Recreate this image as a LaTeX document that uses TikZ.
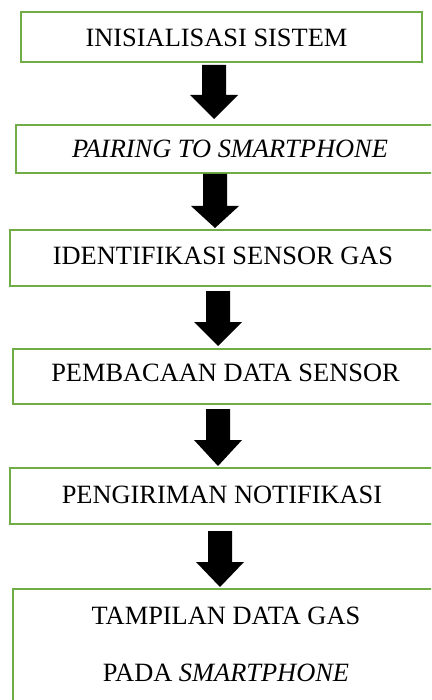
\documentclass[tikz,border=0pt]{standalone}
\usepackage{fontspec}
\setmainfont{Liberation Serif}
\definecolor{boxgreen}{HTML}{70AD47}
\newcommand\blockarrow[4]{%
  \fill[black] (#1-12,#2) -- (#1+12,#2) -- (#1+12,#3) -- (#1+24,#3) -- (#1,#4)
    -- (#1-24,#3) -- (#1-12,#3) -- cycle;}
\begin{document}
\begin{tikzpicture}[x=1pt,y=-1pt,
  stepbox/.style={draw=boxgreen,line width=2pt,fill=white,rectangle,inner sep=0pt,anchor=north west},
  lbl/.style={anchor=base,inner sep=0pt,font=\fontsize{26.4}{30}\selectfont}]
\useasboundingbox (0,0) rectangle (431,700);
\clip (0,0) rectangle (431,700);
% boxes
\node[stepbox,minimum width=400.7pt,minimum height=49.5pt] (b1) at (20.3,11.5) {};
\node[stepbox,minimum width=440pt,minimum height=47.7pt] (b2) at (14.5,124) {};
\node[stepbox,minimum width=440pt,minimum height=56pt] (b3) at (9,229) {};
\node[stepbox,minimum width=440pt,minimum height=55.8pt] (b4) at (12,347.5) {};
\node[stepbox,minimum width=440pt,minimum height=56pt] (b5) at (9,467) {};
\node[stepbox,minimum width=440pt,minimum height=130pt] (b6) at (12,588) {};
% labels
\node[lbl] (t1) at (216.5,47) {INISIALISASI SISTEM};
\node[lbl] (t2) at (230,158) {\textit{PAIRING TO SMARTPHONE}};
\node[lbl] (t3) at (223,265) {IDENTIFIKASI SENSOR GAS};
\node[lbl] (t4) at (225.5,381.7) {PEMBACAAN DATA SENSOR};
\node[lbl] (t5) at (222,503) {PENGIRIMAN NOTIFIKASI};
\node[lbl] (t6a) at (226,624) {TAMPILAN DATA GAS};
\node[lbl] (t6b) at (226,681) {PADA \textit{SMARTPHONE}};
% block arrows
\blockarrow{214}{65}{95}{119}
\blockarrow{215}{174}{206}{228}
\blockarrow{218}{291}{322}{346}
\blockarrow{218}{409}{440}{466}
\blockarrow{220}{531}{562}{587}
\end{tikzpicture}
\end{document}
